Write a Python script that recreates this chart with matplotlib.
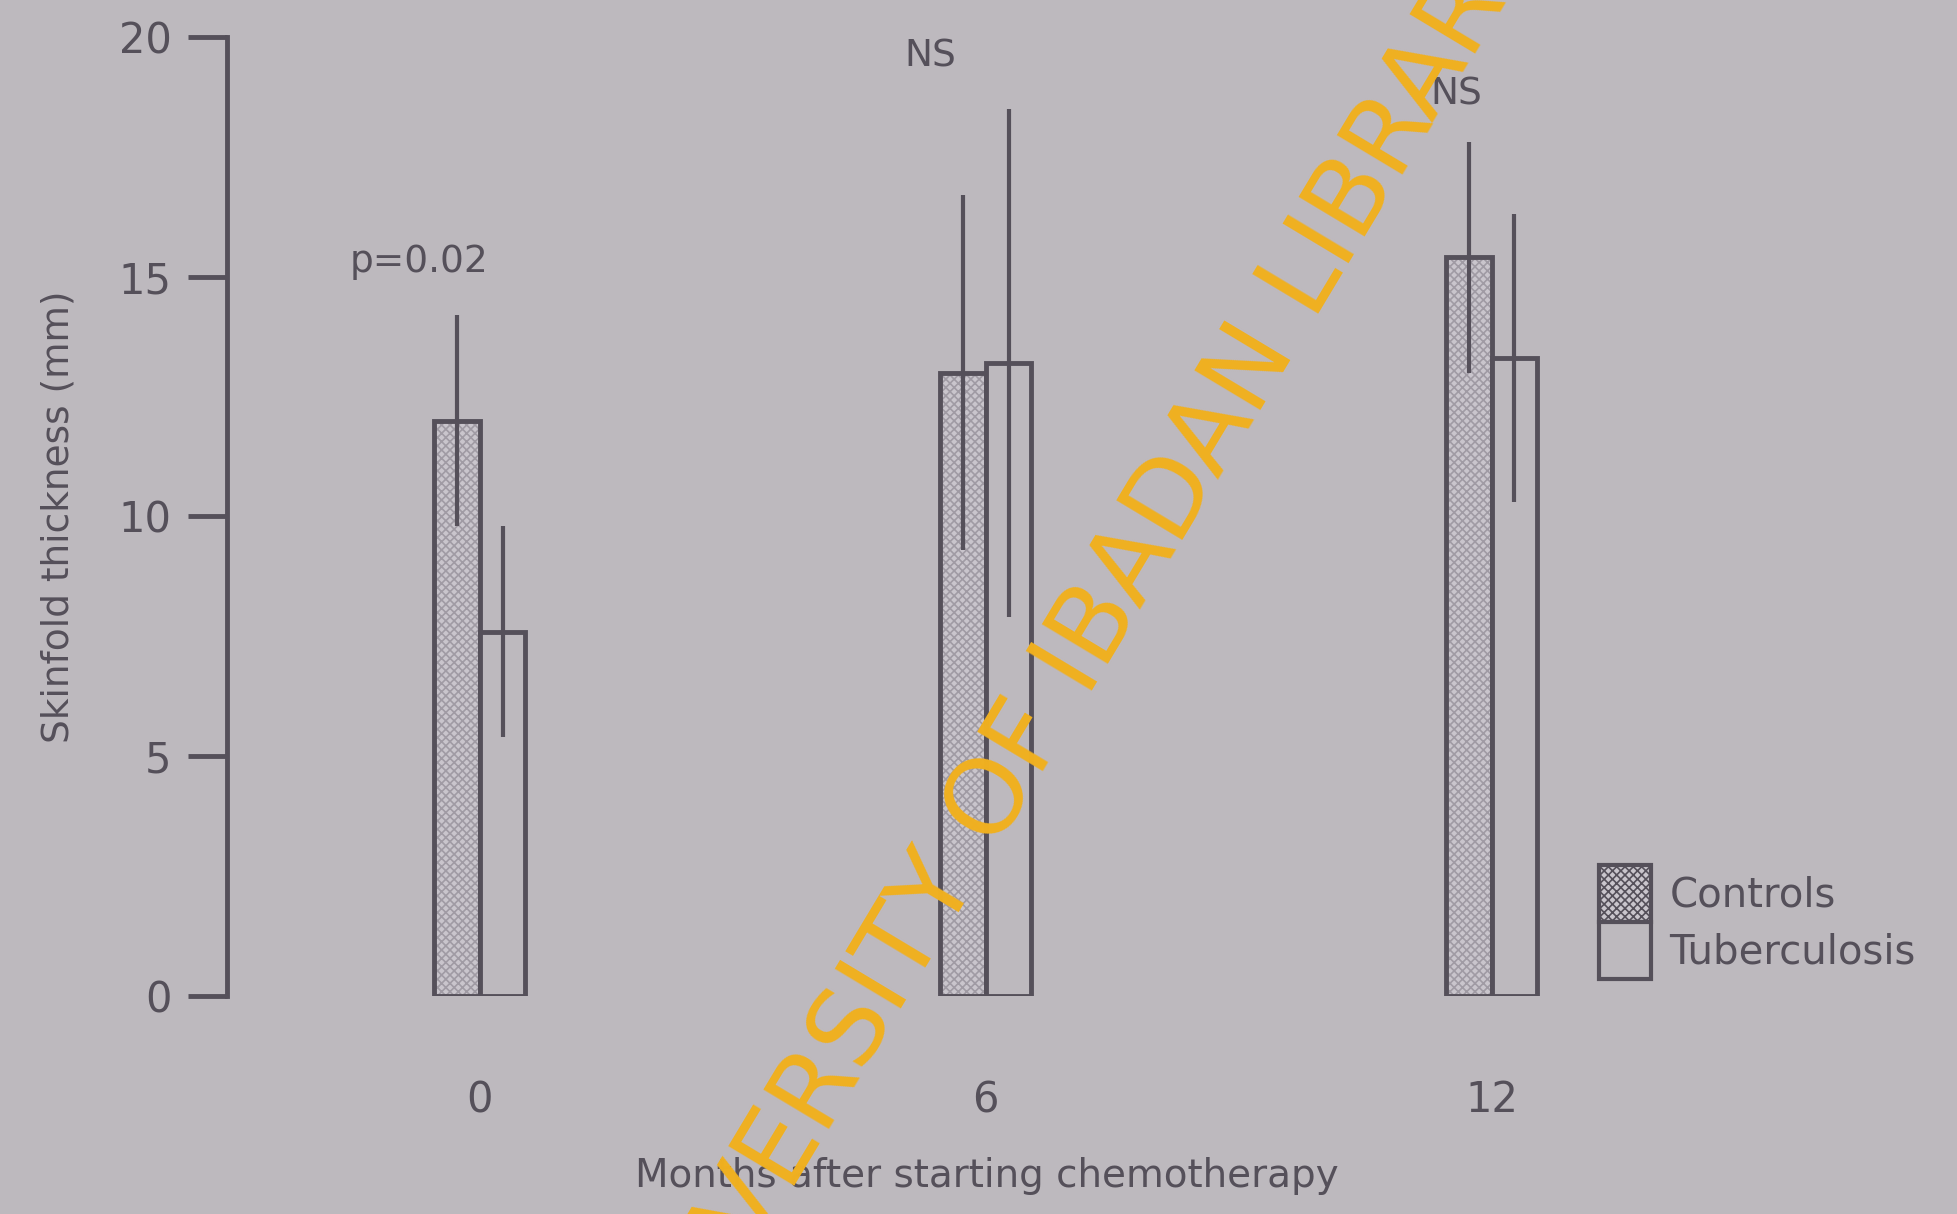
import numpy as np
import matplotlib.pyplot as plt
from matplotlib.patches import Patch

# Mean skinfold thickness (mm) and SD at each visit
months = ['0', '6', '12']
controls_mean = [12.0, 13.0, 15.4]
controls_sd = [2.2, 3.7, 2.4]
tb_mean = [7.6, 13.2, 13.3]
tb_sd = [2.2, 5.3, 3.0]
signif = ['p=0.02', 'NS', 'NS']
signif_pos = [(-0.12, 15.3), (0.89, 19.6), (1.93, 18.8)]

bg = '#bdb9be'
ink = '#55505a'

plt.rcParams['font.family'] = ['DejaVu Sans']
plt.rcParams['hatch.linewidth'] = 1.2

fig = plt.figure(figsize=(19.57, 12.14), dpi=100, facecolor=bg)
ax = fig.add_axes([0.116, 0.1796, 0.884, 0.790])
ax.set_facecolor(bg)

x = np.arange(len(months))
w = 0.09

# hatched fill for controls, then the dark outlines on top
ax.bar(x - w / 2, controls_mean, w, color='#c9c5cc', hatch='xxxx',
       edgecolor='#a09ba4', linewidth=0, zorder=2)
ax.bar(x - w / 2, controls_mean, w, fill=False, edgecolor=ink, linewidth=3.5, zorder=3)
ax.bar(x + w / 2, tb_mean, w, color=bg, edgecolor=ink, linewidth=3.5, zorder=3)

ax.errorbar(x - w / 2, controls_mean, yerr=controls_sd, fmt='none', ecolor=ink,
            elinewidth=3, capsize=0, zorder=4)
ax.errorbar(x + w / 2, tb_mean, yerr=tb_sd, fmt='none', ecolor=ink,
            elinewidth=3, capsize=0, zorder=4)

for s, (sx, sy) in zip(signif, signif_pos):
    ax.text(sx, sy, s, fontsize=27, color=ink, ha='center', va='center')

ax.set_xlim(-0.5, 2.92)
ax.set_ylim(0, 20)
ax.set_yticks([0, 5, 10, 15, 20])
ax.set_xticks(x)
ax.set_xticklabels(months)
ax.tick_params(axis='x', length=0, pad=60, labelsize=30, labelcolor=ink)
ax.tick_params(axis='y', length=28, width=3.5, color=ink, pad=12,
               labelsize=30, labelcolor=ink)
for side in ['top', 'right', 'bottom']:
    ax.spines[side].set_visible(False)
ax.spines['left'].set_linewidth(3.5)
ax.spines['left'].set_color(ink)

ax.set_xlabel('Months after starting chemotherapy', fontsize=28, color=ink, labelpad=26)
ax.xaxis.label.set_x(0.439)
ax.set_ylabel('Skinfold thickness (mm)', fontsize=27, color=ink, labelpad=30)

handles = [Patch(facecolor='#c9c5cc', hatch='xxxx', edgecolor=ink, linewidth=3),
           Patch(facecolor=bg, edgecolor=ink, linewidth=3)]
leg = ax.legend(handles, ['Controls', 'Tuberculosis'], loc='lower left',
                bbox_to_anchor=(0.772, -0.02), frameon=False, fontsize=29,
                labelspacing=0.0, handleheight=1.8, handlelength=1.3,
                handletextpad=0.45, labelcolor=ink)

# library stamp across the page
fig.text(0.548, 0.45, 'UNIVERSITY OF IBADAN LIBRARY', rotation=59, fontsize=76,
         color='#f0b020', ha='center', va='center', zorder=10)

fig.savefig('out.png', dpi=100, facecolor=bg)
